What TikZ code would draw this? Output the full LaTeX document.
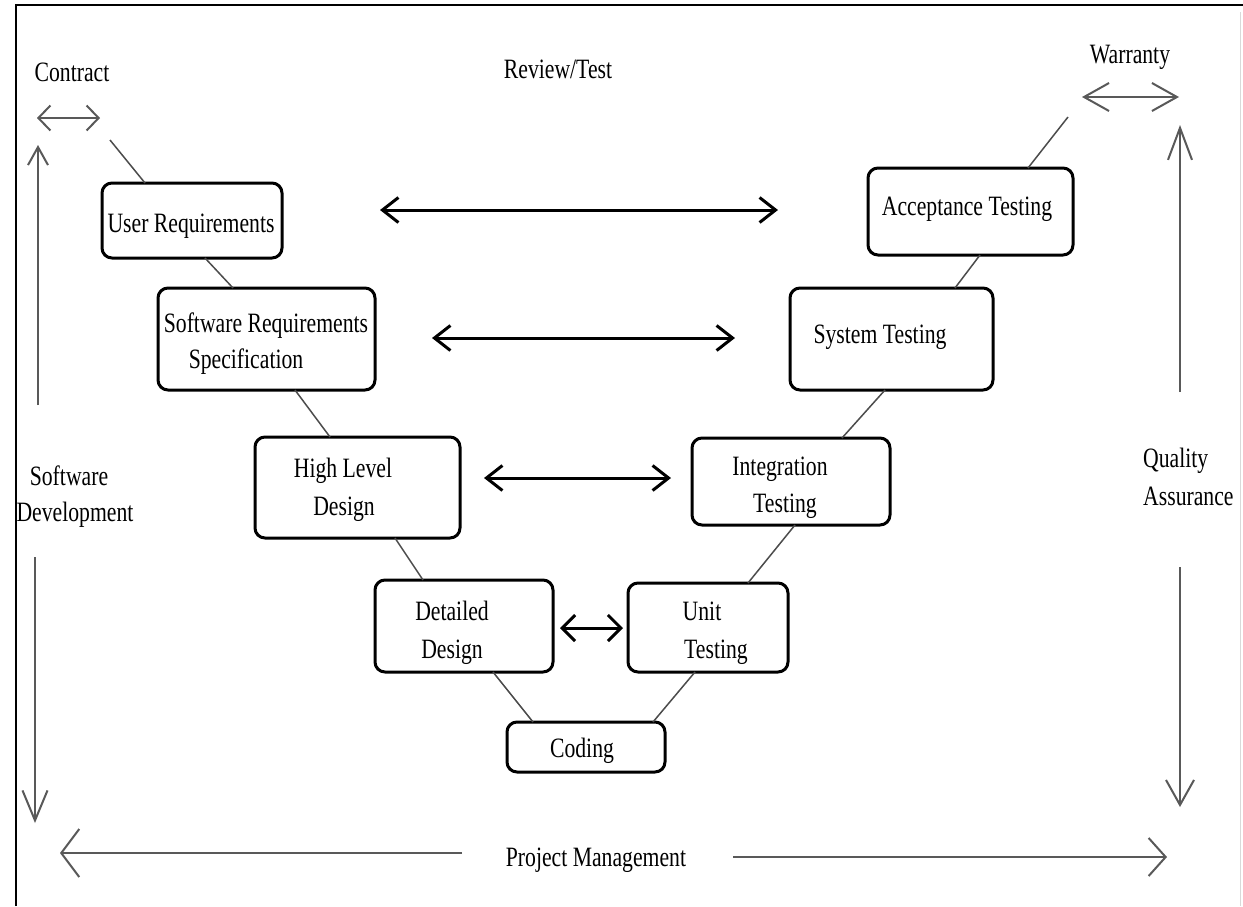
\documentclass[tikz,border=0pt]{standalone}
\usepackage{fontspec}
\setmainfont{Liberation Serif}[FakeStretch=0.775]
\usetikzlibrary{arrows.meta,calc}

\begin{document}
\begin{tikzpicture}[x=1pt,y=-1pt,
  box/.style={draw, line width=3pt, rounded corners=10pt, inner sep=0pt, outer sep=0pt},
  lbl/.style={inner sep=0pt, anchor=base, font=\fontsize{28}{38}\selectfont},
  link/.style={draw=black!70, line width=1.5pt},
  pair/.style={line width=3pt, {Straight Barb[length=16pt,width=25pt]}-{Straight Barb[length=16pt,width=25pt]}},
  side/.style={draw=black!65, line width=2pt}
]
% page and frame
\useasboundingbox (0,0) rectangle (1243,906);
\fill[white] (0,0) rectangle (1243,906);
\draw[line width=2pt] (16,906) -- (16,5) -- (1243,5);
\draw[black!15, line width=1pt] (1240,12) -- (1240,906);

% phase boxes of the V
\node[box, minimum width=180, minimum height=75]  (ur)  at (192,220.5) {};
\node[box, minimum width=217, minimum height=102] (srs) at (266.5,339) {};
\node[box, minimum width=205, minimum height=101] (hld) at (357.5,487.5) {};
\node[box, minimum width=178, minimum height=92]  (dd)  at (464,626) {};
\node[box, minimum width=158, minimum height=50]  (cod) at (586,747) {};
\node[box, minimum width=160, minimum height=89]  (ut)  at (708,627.5) {};
\node[box, minimum width=198, minimum height=87]  (it)  at (791,481.5) {};
\node[box, minimum width=203, minimum height=102] (st)  at (891.5,339) {};
\node[box, minimum width=205, minimum height=87]  (at)  at (970.5,211.5) {};

% box texts
\node[lbl] (urT)   at (191,232) {User Requirements};
\node[lbl] (srsT1) at (266,332) {Software Requirements};
\node[lbl] (srsT2) at (246,368) {Specification};
\node[lbl] (hldT1) at (343,477) {High Level};
\node[lbl] (hldT2) at (344,515) {Design};
\node[lbl] (ddT1)  at (452,620) {Detailed};
\node[lbl] (ddT2)  at (452,658) {Design};
\node[lbl] (codT)  at (582,757) {Coding};
\node[lbl] (utT1)  at (702,620) {Unit};
\node[lbl] (utT2)  at (716,658) {Testing};
\node[lbl] (itT1)  at (780,475) {Integration};
\node[lbl] (itT2)  at (785,512) {Testing};
\node[lbl] (stT)   at (880,343) {System Testing};
\node[lbl] (atT)   at (967,215) {Acceptance Testing};

% outer labels
\node[lbl] (contract) at (72,81) {Contract};
\node[lbl] (review)   at (558,78) {Review/Test};
\node[lbl] (warranty) at (1130,63) {Warranty};
\node[lbl] (sd1) at (69,485) {Software};
\node[lbl] (sd2) at (75,521) {Development};
\node[lbl, anchor=base west] (qa1) at (1143,467) {Quality};
\node[lbl, anchor=base west] (qa2) at (1143,505) {Assurance};
\node[lbl] (pm) at (596,866) {Project Management};

% free ends of the outer arrows
\coordinate (cL) at (37,118);   \coordinate (cR) at (100,118);
\coordinate (wL) at (1082,97);  \coordinate (wR) at (1179,97);
\coordinate (cEnd) at (110,140);
\coordinate (wEnd) at (1068,117);
\coordinate (sdTop) at (38,145);  \coordinate (sdA) at (38,405);
\coordinate (sdB) at (35,557);    \coordinate (sdBot) at (35,823);
\coordinate (qaTop) at (1180,125); \coordinate (qaA) at (1180,392);
\coordinate (qaB) at (1180,567);   \coordinate (qaBot) at (1180,807);
\coordinate (pmL) at (60,853);  \coordinate (pmA) at (462,853);
\coordinate (pmB) at (733,857); \coordinate (pmR) at (1167,857);

% thin links along the V
\draw[link] (cEnd) -- ([xshift=43]ur.north west);
\draw[link] ([xshift=103]ur.south west) -- ([xshift=75]srs.north west);
\draw[link] ([xshift=137]srs.south west) -- ([xshift=75]hld.north west);
\draw[link] ([xshift=140]hld.south west) -- ([xshift=48]dd.north west);
\draw[link] ([xshift=118]dd.south west) -- ([xshift=26]cod.north west);
\draw[link] ([xshift=146]cod.north west) -- ([xshift=67]ut.south west);
\draw[link] ([xshift=120]ut.north west) -- ([xshift=103]it.south west);
\draw[link] ([xshift=150]it.north west) -- ([xshift=95]st.south west);
\draw[link] ([xshift=165]st.north west) -- ([xshift=112]at.south west);
\draw[link] ([xshift=160]at.north west) -- (wEnd);

% review/test correspondences
\draw[pair] ([shift={(98,-10.5)}]ur.east) -- ([shift={(-90,-1.5)}]at.west);
\draw[pair] ([shift={(57,-1)}]srs.east) -- ([shift={(-55,-1)}]st.west);
\draw[pair] ([shift={(24,-9.5)}]hld.east) -- ([shift={(-21,-3.5)}]it.west);
\draw[line width=3pt, {Straight Barb[length=13pt,width=26pt]}-{Straight Barb[length=13pt,width=26pt]}]
  ([shift={(7,2)}]dd.east) -- ([shift={(-5,0.5)}]ut.west);

% contract and warranty
\draw[side, {Straight Barb[length=12pt,width=25pt]}-{Straight Barb[length=12pt,width=25pt]}] (cL) -- (cR);
\draw[side, {Straight Barb[length=25pt,width=28pt]}-{Straight Barb[length=25pt,width=28pt]}] (wL) -- (wR);

% software development
\draw[side, -{Straight Barb[length=18pt,width=20pt]}] (sdA) -- (sdTop);
\draw[side, -{Straight Barb[length=30pt,width=25pt]}] (sdB) -- (sdBot);

% quality assurance
\draw[side, -{Straight Barb[length=32pt,width=24pt]}] (qaA) -- (qaTop);
\draw[side, -{Straight Barb[length=25pt,width=28pt]}] (qaB) -- (qaBot);

% project management
\draw[side, -{Straight Barb[length=18pt,width=48pt]}] (pmA) -- (pmL);
\draw[side, -{Straight Barb[length=17pt,width=38pt]}] (pmB) -- (pmR);
\end{tikzpicture}
\end{document}
